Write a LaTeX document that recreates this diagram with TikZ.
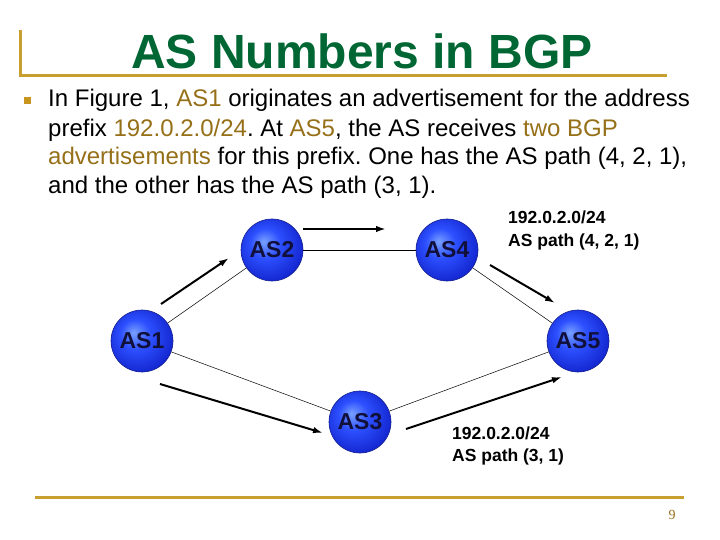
\documentclass[tikz,border=0pt]{standalone}
\usepackage{fontspec}
\setmainfont{Liberation Sans}
\newfontfamily\numfont{Liberation Serif}
\usetikzlibrary{arrows.meta}
\frenchspacing

\definecolor{titlegreen}{RGB}{0,102,51}
\definecolor{rulegold}{RGB}{200,160,50}
\definecolor{bulletgold}{RGB}{200,150,30}
\definecolor{hilite}{RGB}{150,112,25}
\definecolor{asnavy}{RGB}{16,16,58}
\definecolor{asedge}{RGB}{20,30,140}
\definecolor{aslight}{RGB}{120,160,255}
\definecolor{asmid}{RGB}{45,80,255}
\definecolor{asdark}{RGB}{20,40,210}

\pgfdeclareradialshading{asball}{\pgfpoint{-7bp}{7bp}}{%
    color(0bp)=(aslight); color(12bp)=(asmid);
    color(28bp)=(asdark); color(50bp)=(asdark)}

\tikzset{
    asnode/.style={circle, minimum size=62pt, inner sep=0pt,
        shading=asball, draw=asedge, line width=0.6pt,
        text=asnavy, font=\fontsize{23}{23}\selectfont\bfseries},
    link/.style={line width=0.5pt},
    adv/.style={line width=2pt, -{Latex[length=10pt,width=6.5pt]}},
    prefixlabel/.style={anchor=base west, align=left, inner sep=0pt,
        font=\fontsize{17.5}{22}\selectfont\bfseries},
    goldrule/.style={draw=rulegold, line width=3pt},
}

\begin{document}
\begin{tikzpicture}[x=1pt, y=-1pt]
    \useasboundingbox
        (0,0) rectangle (720,540)
        ;

    \draw [goldrule]
        (20,30) -- (20,76) -- (667,76)
        ;
    \draw [goldrule]
        (35,497) -- (684,497)
        ;

    \node (title)
        at (362,69) [anchor=base, inner sep=0pt, text=titlegreen]
        {\fontsize{48}{48}\selectfont\bfseries AS Numbers in BGP}
        ;

    \fill [bulletgold]
        (23.5,97.5) rectangle (30.5,104.5)
        ;
    \node (body)
        at (48,194) [anchor=base west, align=left, inner sep=0pt,
            font=\fontsize{24}{29}\selectfont]
        {In Figure 1, \textcolor{hilite}{AS1} originates an advertisement for the address\\
         prefix \textcolor{hilite}{192.0.2.0/24}. At \textcolor{hilite}{AS5}, the AS receives \textcolor{hilite}{two BGP}\\
         \textcolor{hilite}{advertisements} for this prefix. One has the AS path (4, 2, 1),\\
         and the other has the AS path (3, 1).}
        ;

    \node [asnode] (as1) at (142,341) {AS1};
    \node [asnode] (as2) at (272,250) {AS2};
    \node [asnode] (as3) at (360,422) {AS3};
    \node [asnode] (as4) at (447,250) {AS4};
    \node [asnode] (as5) at (578,341) {AS5};

    \draw [link] (as1) -- (as2);
    \draw [link] (as2) -- (as4);
    \draw [link] (as4) -- (as5);
    \draw [link] (as1) -- (as3);
    \draw [link] (as3) -- (as5);

    \coordinate (a12s) at (161,304);
    \coordinate (a12e) at (229,258);
    \coordinate (a24s) at (303,229);
    \coordinate (a24e) at (386,229);
    \coordinate (a45s) at (490,265);
    \coordinate (a45e) at (555,303);
    \coordinate (a13s) at (160,384);
    \coordinate (a13e) at (323,433);
    \coordinate (a35s) at (406,429);
    \coordinate (a35e) at (562,377);

    \draw [adv] (a12s) -- (a12e);
    \draw [adv] (a24s) -- (a24e);
    \draw [adv] (a45s) -- (a45e);
    \draw [adv] (a13s) -- (a13e);
    \draw [adv] (a35s) -- (a35e);

    \node (path421)
        at (508,246) [prefixlabel]
        {192.0.2.0/24\\AS path (4, 2, 1)}
        ;
    \node (path31)
        at (452,461) [prefixlabel]
        {192.0.2.0/24\\AS path (3, 1)}
        ;

    \node (pagenum)
        at (672,519) [anchor=base, text=hilite]
        {\numfont\fontsize{14}{14}\selectfont 9}
        ;
\end{tikzpicture}
\end{document}
